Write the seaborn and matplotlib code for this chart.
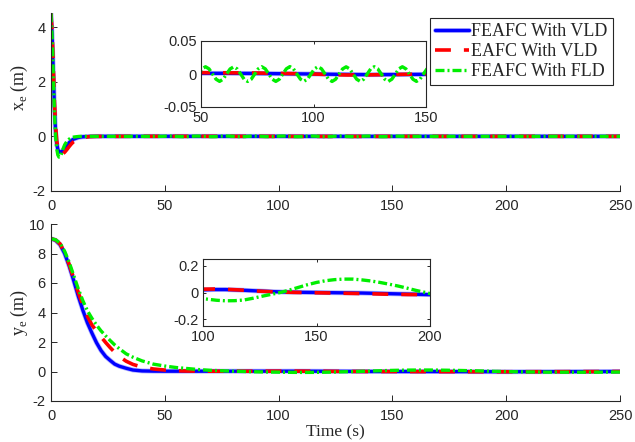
import numpy as np
import matplotlib
matplotlib.use("Agg")
import matplotlib.pyplot as plt
import matplotlib.patheffects as pe
import seaborn as sns

# ---------------- x_e tracking error (m) ----------------
t_x_blue = [0, 0.5, 1, 1.5, 2, 2.5, 3, 3.5, 4, 4.5, 5, 6, 7, 8, 9, 10, 12, 14, 17, 20,
            30, 40, 50, 62, 75, 88, 100, 112, 125, 138, 150, 175, 200, 225, 250]
x_blue = [4.5, 3.7, 2.4, 1.1, 0.2, -0.25, -0.48, -0.56, -0.58, -0.57, -0.54, -0.44, -0.33,
          -0.23, -0.15, -0.1, -0.04, -0.015, -0.004, 0.0,
          0.0005, 0.0008, 0.001, 0.001, 0.0008, 0.0004, 0.0, -0.0006, -0.001, -0.0008,
          -0.0005, 0.0, 0.0, 0.0, 0.0]

t_x_red = [0, 0.5, 1, 1.5, 2, 2.5, 3, 3.5, 4, 4.5, 5, 6, 7, 8, 9, 10, 12, 14, 17, 20,
           30, 40, 50, 62, 75, 88, 100, 108, 115, 122, 130, 140, 150, 175, 200, 225, 250]
x_red = [4.5, 3.8, 2.6, 1.3, 0.4, -0.15, -0.42, -0.56, -0.63, -0.65, -0.65, -0.58, -0.48,
         -0.37, -0.27, -0.19, -0.09, -0.04, -0.01, -0.002,
         0.0, 0.001, 0.002, 0.0018, 0.0015, 0.0008, 0.0, -0.001, -0.0015, -0.0014, -0.001,
         -0.0005, 0.0, 0.0, 0.0, 0.0, 0.0]

t_x_green_start = [0, 0.5, 1, 1.5, 2, 2.5, 3, 3.5, 4, 4.5, 5, 6, 7, 8, 9, 10, 12, 14, 17, 20,
                   25, 30, 35, 40, 45]
x_green_start = [4.5, 3.6, 2.3, 0.9, 0.0, -0.45, -0.68, -0.76, -0.76, -0.66, -0.52, -0.31,
                 -0.18, -0.1, -0.05, -0.025, -0.005, 0.0, 0.0, 0.0,
                 0.0, 0.0, 0.0, 0.0, 0.0]
# residual oscillation sampled every 1.5625 s from 48.875 s
t_x_green_osc = np.arange(48.875, 150.5, 1.5625)
x_green_osc = [0.0, 0.0078, 0.0110, 0.0078, 0.0, -0.0079, -0.0112, -0.0079,
               0.0, 0.0077, 0.0108, 0.0077, 0.0, -0.0080, -0.0113, -0.0080,
               0.0, 0.0078, 0.0110, 0.0078, 0.0, -0.0079, -0.0112, -0.0079,
               0.0, 0.0079, 0.0112, 0.0079, 0.0, -0.0078, -0.0110, -0.0078,
               0.0, 0.0078, 0.0111, 0.0078, 0.0, -0.0080, -0.0113, -0.0080,
               0.0, 0.0077, 0.0109, 0.0077, 0.0, -0.0079, -0.0111, -0.0079,
               0.0, 0.0078, 0.0110, 0.0078, 0.0, -0.0079, -0.0112, -0.0079,
               0.0, 0.0078, 0.0110, 0.0078, 0.0, -0.0079, -0.0112, -0.0079,
               0.0, 0.0078]
t_x_green_end = [160, 175, 200, 225, 250]
x_green_end = [0.0, 0.0, 0.0, 0.0, 0.0]

t_x_green = np.concatenate([t_x_green_start, t_x_green_osc, t_x_green_end])
x_green = np.concatenate([x_green_start, x_green_osc, x_green_end])

# ---------------- y_e tracking error (m) ----------------
t_y_blue = [0, 2, 4, 6, 8, 10, 12, 14, 16, 18, 20, 22, 24, 26, 28, 30, 33, 36, 40, 45,
            50, 60, 70, 80, 90, 100, 105, 110, 115, 120, 125, 130, 135, 140, 150, 160,
            170, 180, 190, 200, 225, 250]
y_blue = [9.0, 8.9, 8.6, 8.0, 7.15, 6.15, 5.1, 4.15, 3.3, 2.6, 1.95, 1.42, 1.02, 0.75,
          0.5, 0.36, 0.22, 0.1, 0.04, 0.025, 0.02, 0.02, 0.02, 0.02, 0.02,
          0.02, 0.022, 0.022, 0.019, 0.015, 0.011, 0.007, 0.004, 0.002, 0.0, -0.002,
          -0.004, -0.008, -0.012, -0.016, -0.01, 0.0]

t_y_red = [0, 2, 4, 6, 8, 10, 12, 14, 16, 18, 20, 22, 24, 26, 28, 30, 33, 36, 40, 45,
           50, 55, 60, 70, 80, 90, 100, 105, 110, 115, 120, 125, 130, 135, 140, 150, 160,
           170, 180, 190, 200, 225, 250]
y_red = [9.0, 8.92, 8.65, 8.05, 7.25, 6.3, 5.35, 4.5, 3.75, 3.15, 2.75, 2.35, 1.97, 1.62,
         1.3, 1.02, 0.7, 0.48, 0.3, 0.17, 0.1, 0.05, 0.03, 0.02, 0.02, 0.02,
         0.025, 0.026, 0.024, 0.02, 0.015, 0.01, 0.006, 0.003, 0.001, -0.002, -0.005,
         -0.008, -0.012, -0.015, -0.016, -0.01, 0.0]

t_y_green = [0, 2, 4, 6, 8, 10, 12, 14, 16, 18, 20, 22, 24, 26, 28, 30, 33, 36, 40, 45,
             50, 55, 60, 65, 70, 75, 80, 85, 90, 95, 100, 103, 106, 110, 114, 118, 122,
             126, 130, 134, 138, 142, 146, 150, 154, 158, 162, 166, 170, 174, 178, 182,
             186, 190, 194, 198, 200, 210, 220, 230, 240, 250]
y_green = [9.0, 8.93, 8.7, 8.15, 7.4, 6.5, 5.6, 4.8, 4.12, 3.6, 3.15, 2.75, 2.42, 2.1,
           1.8, 1.55, 1.2, 0.97, 0.72, 0.5, 0.37, 0.27, 0.2, 0.13, 0.08, 0.05, 0.02,
           0.0, -0.02, -0.035, -0.046, -0.052, -0.058, -0.062, -0.061, -0.056, -0.043,
           -0.028, -0.014, 0.0, 0.018, 0.038, 0.058, 0.075, 0.088, 0.096, 0.1, 0.1,
           0.094, 0.086, 0.075, 0.062, 0.048, 0.032, 0.015, 0.0, -0.008, -0.03, -0.045,
           -0.05, -0.045, -0.035]

series_names = ["FEAFC With VLD", "EAFC With VLD", "FEAFC With FLD"]
series_colors = ["#0000ff", "#ff0000", "#00ee00"]

# ---------------- styling ----------------
sns.set_theme(style="ticks")
plt.rcParams["font.family"] = ["Liberation Sans", "DejaVu Sans"]
plt.rcParams["mathtext.fontset"] = "custom"
plt.rcParams["mathtext.rm"] = "Liberation Serif"
plt.rcParams["axes.edgecolor"] = "#262626"
plt.rcParams["xtick.color"] = "#262626"
plt.rcParams["ytick.color"] = "#262626"
plt.rcParams["axes.linewidth"] = 0.8

SERIF = "Liberation Serif"
INK = "#262626"

line_styles = [
    dict(lw=2.4, linestyle="-"),
    dict(lw=2.6, linestyle=(0, (4.4, 3.6))),
    dict(lw=2.4, linestyle=(0, (2.7, 0.9, 0.6, 0.9))),
]


def draw_series(ax, data):
    for i, (t, v) in enumerate(data):
        st = line_styles[i]
        sns.lineplot(x=np.asarray(t, float), y=np.asarray(v, float), ax=ax,
                     color=series_colors[i], lw=st["lw"],
                     linestyle=st["linestyle"], label=series_names[i],
                     legend=False, estimator=None, sort=False)
        if i == 0:
            # soft edge around the solid blue trace
            ax.lines[-1].set_path_effects(
                [pe.Stroke(linewidth=st["lw"] + 1.1, foreground="#b4b4ff"),
                 pe.Normal()])


def style_main(ax):
    sns.despine(ax=ax)
    ax.tick_params(direction="in", length=4, width=0.7, labelsize=10.5,
                   labelcolor=INK, pad=6)
    ax.tick_params(axis="y", pad=4)
    ax.set_xlim(0, 250)
    ax.set_xticks([0, 50, 100, 150, 200, 250])


def style_inset(ax):
    for s in ax.spines.values():
        s.set_visible(True)
        s.set_color(INK)
        s.set_linewidth(0.8)
    ax.tick_params(direction="in", length=2.5, width=0.7, labelsize=10.5,
                   labelcolor=INK, pad=3, top=True, right=True)
    ax.set_facecolor("white")


fig = plt.figure(figsize=(6.35, 4.42), dpi=100)
W, H = 635.0, 442.0

def px_axes(x0, y0, x1, y1):
    return fig.add_axes([x0 / W, 1 - y1 / H, (x1 - x0) / W, (y1 - y0) / H])

x_data = [(t_x_blue, x_blue), (t_x_red, x_red), (t_x_green, x_green)]
y_data = [(t_y_blue, y_blue), (t_y_red, y_red), (t_y_green, y_green)]

# top panel: x_e
ax1 = px_axes(51, 13.4, 620, 191)
draw_series(ax1, x_data)
style_main(ax1)
ax1.set_ylim(-2, 4.5)
ax1.set_yticks([-2, 0, 2, 4])
ax1.set_ylabel(r"x$_{\mathregular{e}}$ (m)", fontsize=13, family=SERIF, color=INK)
ax1.yaxis.set_label_coords(-0.037, 0.58)

# bottom panel: y_e
ax2 = px_axes(51, 224, 620, 401)
draw_series(ax2, y_data)
style_main(ax2)
ax2.set_ylim(-2, 10)
ax2.set_yticks([-2, 0, 2, 4, 6, 8, 10])
ax2.set_ylabel(r"y$_{\mathregular{e}}$ (m)", fontsize=13, family=SERIF, color=INK)
ax2.yaxis.set_label_coords(-0.037, 0.5)
ax2.set_xlabel("Time (s)", fontsize=12.5, family=SERIF, color=INK)
ax2.xaxis.set_label_coords(0.5, -0.13)

# zoomed view of x_e steady state
in1 = px_axes(201, 41, 426, 107)
draw_series(in1, x_data)
style_inset(in1)
in1.set_xlim(50, 150)
in1.set_ylim(-0.05, 0.05)
in1.set_xticks([50, 100, 150])
in1.set_yticks([-0.05, 0, 0.05])
in1.set_yticklabels(["-0.05", "0", "0.05"])
in1.set_xlabel("")
in1.set_ylabel("")

# zoomed view of y_e steady state
in2 = px_axes(203, 259, 430, 326)
draw_series(in2, y_data)
style_inset(in2)
in2.set_xlim(100, 200)
in2.set_ylim(-0.25, 0.25)
in2.set_xticks([100, 150, 200])
in2.set_yticks([-0.2, 0, 0.2])
in2.set_yticklabels(["-0.2", "0", "0.2"])
in2.set_xlabel("")
in2.set_ylabel("")

for a in (ax1, ax2):
    a.set_yticklabels([f"{v:g}" for v in a.get_yticks()])

handles = ax1.lines[:3]
leg = ax1.legend(handles, series_names, loc="upper right",
                 bbox_to_anchor=(613 / W, 1 - 18 / H), bbox_transform=fig.transFigure,
                 borderaxespad=0, prop={"family": SERIF, "size": 13},
                 frameon=True, fancybox=False, framealpha=1, edgecolor=INK,
                 handlelength=1.9, handletextpad=0.1, borderpad=0.3,
                 labelspacing=0.15)
leg.get_frame().set_linewidth(0.8)

fig.savefig("out.png", dpi=100)
